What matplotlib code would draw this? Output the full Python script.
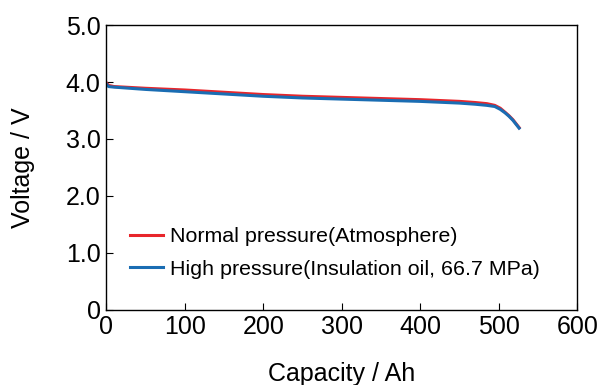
import matplotlib.pyplot as plt
import numpy as np

plt.rcParams['font.family'] = ['Liberation Sans', 'DejaVu Sans']

# discharge curves
cap_normal = [0, 3, 10, 50, 100, 150, 200, 250, 300, 350, 400, 450, 470, 485, 495, 502, 508, 513, 518, 522, 526]
volt_normal = [3.99, 3.94, 3.92, 3.89, 3.86, 3.82, 3.78, 3.75, 3.73, 3.71, 3.69, 3.66, 3.64, 3.62, 3.59, 3.54, 3.47, 3.41, 3.34, 3.27, 3.20]

cap_high = [0, 3, 10, 50, 100, 150, 200, 250, 300, 350, 400, 450, 470, 485, 495, 502, 508, 513, 518, 522, 526]
volt_high = [3.97, 3.92, 3.91, 3.87, 3.83, 3.79, 3.75, 3.72, 3.70, 3.68, 3.66, 3.63, 3.61, 3.59, 3.57, 3.52, 3.46, 3.40, 3.33, 3.26, 3.19]

labels = ['Normal pressure(Atmosphere)', 'High pressure(Insulation oil, 66.7 MPa)']
x_ticks = [0, 100, 200, 300, 400, 500, 600]
y_ticks = [0, 1, 2, 3, 4, 5]
y_ticklabels = ['0', '1.0', '2.0', '3.0', '4.0', '5.0']

fig = plt.figure(figsize=(6, 3.85), dpi=100)
ax = fig.add_axes([0.177, 0.195, 0.785, 0.74])

ax.plot(cap_normal, volt_normal, color='#e8262b', linewidth=2.2, label=labels[0])
ax.plot(cap_high, volt_high, color='#1a6db3', linewidth=2.2, label=labels[1])

ax.set_xlim(0, 600)
ax.set_ylim(0, 5)
ax.set_xticks(x_ticks)
ax.set_yticks(y_ticks)
ax.set_yticklabels(y_ticklabels)
ax.tick_params(direction='in', length=5, labelsize=18, pad=4)
for s in ax.spines.values():
    s.set_linewidth(1.0)

ax.set_xlabel('Capacity / Ah', fontsize=18, labelpad=16)
ax.set_ylabel('Voltage / V', fontsize=18, labelpad=22)

ax.legend(loc='upper left', bbox_to_anchor=(0.051, 0.29), frameon=False,
          fontsize=15.4, handlelength=1.55, handletextpad=0.3, labelspacing=0.62,
          borderpad=0, borderaxespad=0)

plt.savefig('out.png', dpi=100)
